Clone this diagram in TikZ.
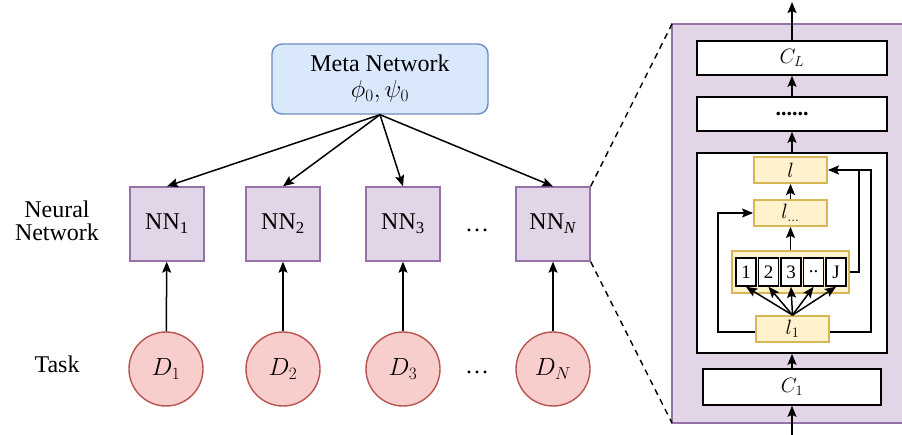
\documentclass[tikz,border=0pt]{standalone}
\usepackage{fontspec}
\setmainfont{Liberation Serif}
\usetikzlibrary{arrows.meta}
\definecolor{metafill}{HTML}{DAE8FC}
\definecolor{metaline}{HTML}{6C8EBF}
\definecolor{nnfill}{HTML}{E1D5E7}
\definecolor{nnline}{HTML}{9673A6}
\definecolor{dfill}{HTML}{F8CECC}
\definecolor{dline}{HTML}{B85450}
\definecolor{yfill}{HTML}{FFF2CC}
\definecolor{yline}{HTML}{D6B656}
\begin{document}
\begin{tikzpicture}[x=1pt,y=-1pt,
  font=\fontsize{24}{27}\selectfont,
  metabox/.style={draw=metaline,fill=metafill,line width=1.4pt,rounded corners=10pt,minimum width=216pt,minimum height=70pt,align=center,inner sep=0pt},
  nnbox/.style={draw=nnline,fill=nnfill,line width=1.4pt,minimum width=74pt,minimum height=74pt,inner sep=0pt},
  dcirc/.style={circle,draw=dline,fill=dfill,line width=1.4pt,minimum size=74pt,inner sep=0pt,font=\fontsize{23}{26}\selectfont},
  wbox/.style={draw=black,fill=white,line width=1.6pt,inner sep=0pt,font=\fontsize{22}{25}\selectfont},
  ybox/.style={draw=yline,fill=yfill,line width=1.8pt,inner sep=0pt,font=\fontsize{21}{24}\selectfont},
  cellbox/.style={draw=black,fill=white,line width=1.6pt,inner sep=0pt,minimum width=20pt,minimum height=28pt,font=\fontsize{19}{22}\selectfont},
  arr/.style={line width=1.5pt,-{Stealth[length=11pt,width=9pt,inset=2pt]}},
  plain/.style={line width=1.5pt}
]
\useasboundingbox (0,0) rectangle (902,435);

% left part
\node[metabox] (meta) at (380,79) {Meta Network\\[-1pt]$\phi_0,\psi_0$};

\node[nnbox] (nn1) at (167,224) {NN\textsubscript{1}};
\node[nnbox] (nn2) at (283,224) {NN\textsubscript{2}};
\node[nnbox] (nn3) at (403,224) {NN\textsubscript{3}};
\node[nnbox] (nnN) at (553,224) {NN\textsubscript{\textit{N}}};

\node[dcirc] (d1) at (166,369) {$D_1$};
\node[dcirc] (d2) at (283,369) {$D_2$};
\node[dcirc] (d3) at (403,369) {$D_3$};
\node[dcirc] (dN) at (553,369) {$D_N$};

\node (ldots1) at (477,230) {\dots};
\node (ldots2) at (477,372) {\dots};

\node[align=center] (nnlab) at (57,221) {Neural\\[-4pt]Network};
\node (tasklab) at (57,364) {Task};

\foreach \n in {nn1,nn2,nn3,nnN} \draw[arr] (meta.south) -- (\n.north);
\draw[arr] (d1) -- (nn1);
\draw[arr] (d2) -- (nn2);
\draw[arr] (d3) -- (nn3);
\draw[arr] (dN) -- (nnN);

% right panel
\fill[nnfill] (672,24) rectangle (902,423);
\draw[nnline,line width=1.4pt] (903,24) -- (672,24) -- (672,423) -- (903,423);
\coordinate (ptl) at (672,24);
\coordinate (pbl) at (672,423);
\draw[line width=1.4pt,dash pattern=on 6pt off 5pt] (nnN.north east) -- (ptl);
\draw[line width=1.4pt,dash pattern=on 6pt off 5pt] (nnN.south east) -- (pbl);

\node[wbox,minimum width=190pt,minimum height=34pt] (cL) at (792,58) {$C_L$};
\node[wbox,minimum width=190pt,minimum height=34pt] (dots) at (792,114) {\textbf{......}};
\node[wbox,minimum width=190pt,minimum height=200pt] (big) at (792,253) {};
\node[wbox,minimum width=178pt,minimum height=36pt] (c1) at (792,387) {$C_1$};
\coordinate (topc) at (792,2);
\coordinate (botc) at (792,435);

\node[ybox,minimum width=73pt,minimum height=26pt] (lb) at (790.5,170) {$l$};
\node[ybox,minimum width=73pt,minimum height=26pt] (lm) at (790.5,213) {$l_{\ldots}$};
\node[ybox,minimum width=117pt,minimum height=42pt] (arrbox) at (790.5,272) {};
\node[cellbox] (k1) at (746,272) {1};
\node[cellbox] (k2) at (768.5,272) {2};
\node[cellbox] (k3) at (791,272) {3};
\node[cellbox] (k4) at (813.5,272) {..};
\node[cellbox] (k5) at (836,272) {J};
\node[ybox,minimum width=73pt,minimum height=26pt] (l1) at (792.5,329) {$l_1$};

\draw[arr] (botc) -- (c1.south);
\draw[arr] (c1.north) -- (big.south);
\draw[arr] (big.north) -- (dots.south);
\draw[arr] (dots.north) -- (cL.south);
\draw[arr] (cL.north) -- (topc);
\draw[arr] (arrbox.north) -- (lm.south);
\draw[arr] (lm.north) -- (lb.south);
\foreach \k in {k1,k2,k3,k4,k5} \draw[arr] (l1.north) -- (\k.south);
\draw[arr] ([yshift=-3pt]l1.west) -- (718,332) -- (718,213) -- (lm.west);
\draw[arr] ([yshift=-3pt]l1.east) -- (871,332) -- (871,170) -- (lb.east);
\draw[plain] (arrbox.east) -- (859,272) -- (859,170);
\end{tikzpicture}
\end{document}
